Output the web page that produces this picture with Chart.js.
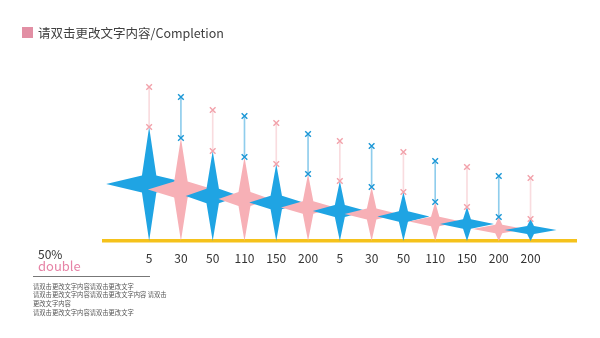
<!DOCTYPE html>
<html>
<head>
<meta charset="utf-8">
<script src="https://cdn.jsdelivr.net/npm/chart.js@4"></script>
<style>
  html, body { margin:0; padding:0; background:#fff; }
  #wrap { position:relative; width:600px; height:338px; overflow:hidden; font-family:"Noto Sans CJK SC","Noto Sans",sans-serif; }
  canvas { position:absolute; left:0; top:0; }
  .abs { position:absolute; white-space:nowrap; }
  #sq { left:22px; top:27px; width:11px; height:11px; background:#e28fa4; }
  #ttl { left:38px; top:24px; font-size:12.5px; line-height:18px; color:#404040; }
  #pct { left:38px; top:246px; font-size:12px; line-height:15px; color:#333; }
  #dbl { left:38px; top:258px; font-size:13px; line-height:16px; color:#e683a6; }
  #rule { left:33px; top:276px; width:117px; height:1px; background:#777; }
  .small { left:33px; font-size:6.3px; line-height:8px; color:#555; }
</style>
</head>
<body>
<div id="wrap">
  <canvas id="c" width="600" height="338"></canvas>
  <div class="abs" id="sq"></div>
  <div class="abs" id="ttl">请双击更改文字内容/Completion</div>
  <div class="abs" id="pct">50%</div>
  <div class="abs" id="dbl">double</div>
  <div class="abs" id="rule"></div>
  <div class="abs small" style="top:283px">请双击更改文字内容请双击更改文字</div>
  <div class="abs small" style="top:291px">请双击更改文字内容请双击更改文字内容 请双击</div>
  <div class="abs small" style="top:300px">更改文字内容</div>
  <div class="abs small" style="top:309px">请双击更改文字内容请双击更改文字</div>
</div>
<script>
// ---- data ----
const categories = ['5','30','50','110','150','200','5','30','50','110','150','200','200'];
const starValues = [114, 103, 90, 84, 77, 67, 60, 54, 49, 39, 34, 24, 22];
const upperValues = [154, 144, 131, 125, 118, 107, 100, 95, 89, 80, 74, 65, 63];

// ---- styles ----
const BLUE = '#1fa4e3', PINK = '#f7b0b6';
const MARK_PINK = '#f2a2ab', MARK_BLUE = '#1b97d6';
const LINE_PINK = '#f9dcdf', LINE_BLUE = '#8fcdec';
const starColors = categories.map((c, i) => i % 2 === 0 ? BLUE : PINK);
const markColors = categories.map((c, i) => i % 2 === 0 ? MARK_PINK : MARK_BLUE);
const lineColors = categories.map((c, i) => i % 2 === 0 ? LINE_PINK : LINE_BLUE);
const starHalfWidths = [43, 33, 27, 26, 27, 27, 27, 27, 26, 26, 27, 26, 26];

const starPlugin = {
  id: 'stars',
  beforeDatasetsDraw(chart) {
    const meta = chart.getDatasetMeta(0);
    const ctx = chart.ctx;
    ctx.save();
    meta.data.forEach((el, i) => {
      const cx = el.x, top = el.y, bot = el.base;
      const h = bot - top;
      const cy = (top + bot) / 2;
      const hw = starHalfWidths[i];
      const inner = Math.min(8.5, 3 + h * 0.048);
      ctx.beginPath();
      ctx.moveTo(cx, top);
      ctx.lineTo(cx + inner * 0.85, cy - inner);
      ctx.lineTo(cx + hw, cy);
      ctx.lineTo(cx + inner * 0.85, cy + inner);
      ctx.lineTo(cx, bot);
      ctx.lineTo(cx - inner * 0.85, cy + inner);
      ctx.lineTo(cx - hw, cy);
      ctx.lineTo(cx - inner * 0.85, cy - inner);
      ctx.closePath();
      ctx.fillStyle = starColors[i];
      ctx.fill();
    });
    ctx.restore();
  }
};

new Chart(document.getElementById('c'), {
  type: 'line',
  data: {
    datasets: [
      {
        type: 'bar',
        data: categories.map((c, i) => ({ x: i, y: starValues[i] })),
        backgroundColor: 'rgba(0,0,0,0)',
        barThickness: 1,
        grouped: false
      },
      {
        type: 'line',
        data: categories.map((c, i) => ({ x: i, y: upperValues[i] })),
        showLine: false,
        pointStyle: 'crossRot',
        pointRadius: 4,
        pointBorderWidth: 1.4,
        pointBorderColor: markColors,
        pointBackgroundColor: markColors
      },
      {
        type: 'line',
        data: categories.map((c, i) => ({ x: i, y: starValues[i] })),
        showLine: false,
        pointStyle: 'crossRot',
        pointRadius: 4,
        pointBorderWidth: 1.4,
        pointBorderColor: markColors,
        pointBackgroundColor: markColors
      },
      {
        type: 'bar',
        data: categories.map((c, i) => ({ x: i, y: [starValues[i], upperValues[i]] })),
        backgroundColor: lineColors,
        barThickness: 1,
        grouped: false
      }
    ]
  },
  options: {
    responsive: false,
    animation: false,
    devicePixelRatio: 1,
    layout: { padding: { left: 104, right: 24, top: 81, bottom: 0 } },
    plugins: { legend: { display: false }, tooltip: { enabled: false } },
    scales: {
      x: {
        type: 'linear',
        offset: false,
        min: -1.42,
        max: 13.43,
        grid: { display: false, drawTicks: false },
        border: { display: true, color: '#f5c21b', width: 3.5 },
        afterBuildTicks: s => { s.ticks = categories.map((c, i) => ({ value: i })); },
        afterFit: s => { s.height = 97; },
        ticks: {
          padding: 10,
          autoSkip: false,
          maxRotation: 0,
          color: '#333',
          font: { family: '"Noto Sans CJK SC", "Noto Sans", sans-serif', size: 12 },
          callback: v => categories[Math.round(v)]
        }
      },
      y: { display: false, min: 0, max: 160 }
    }
  },
  plugins: [starPlugin]
});
</script>
</body>
</html>
